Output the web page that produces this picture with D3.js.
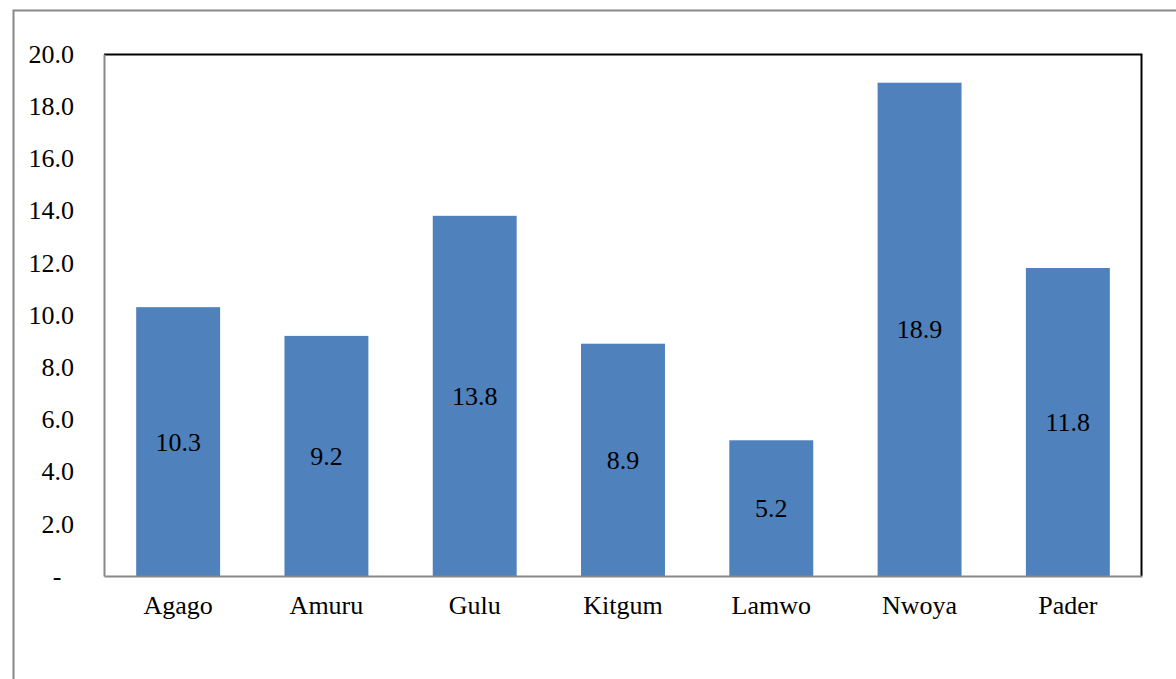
<!DOCTYPE html>
<html>
<head>
<meta charset="utf-8">
<script src="https://cdn.jsdelivr.net/npm/d3@7"></script>
<style>
  html, body { margin: 0; padding: 0; background: #fff; }
  svg { display: block; }
</style>
</head>
<body>
<svg id="chart" width="1176" height="679" font-family="Liberation Serif"></svg>
<script>
// District values
const districts = ["Agago", "Amuru", "Gulu", "Kitgum", "Lamwo", "Nwoya", "Pader"];
const values = [10.3, 9.2, 13.8, 8.9, 5.2, 18.9, 11.8];
const yTicks = [0, 2, 4, 6, 8, 10, 12, 14, 16, 18, 20];

const fontSize = 26;
const serif = "Liberation Serif";
const svg = d3.select("#chart");

// Outer chart frame
svg.append("rect")
  .attr("x", 13.5).attr("y", 10.5)
  .attr("width", 1180).attr("height", 700)
  .attr("fill", "none").attr("stroke", "#888").attr("stroke-width", 2);

const plot = { left: 104, top: 54, right: 1142, bottom: 576 };

const x = d3.scaleBand()
  .domain(districts)
  .range([plot.left, plot.right])
  .paddingInner(0.434)
  .paddingOuter(0.217);

const y = d3.scaleLinear().domain([0, 20]).range([plot.bottom, plot.top]);

// Plot area border (top/right)
svg.append("path")
  .attr("d", `M${plot.left},${plot.top + 0.5}H${plot.right - 0.5}V${plot.bottom}`)
  .attr("fill", "none").attr("stroke", "#000").attr("stroke-width", 2);

// Bars
svg.append("g").selectAll("rect")
  .data(values)
  .join("rect")
  .attr("x", (d, i) => x(districts[i]))
  .attr("y", d => y(d))
  .attr("width", x.bandwidth())
  .attr("height", d => y(0) - y(d))
  .attr("fill", "#4F81BD");

// Value labels centred in bars
svg.append("g").selectAll("text")
  .data(values)
  .join("text")
  .attr("x", (d, i) => x(districts[i]) + x.bandwidth() / 2)
  .attr("y", d => (y(d) + y(0)) / 2)
  .attr("text-anchor", "middle")
  .attr("dy", "0.35em")
  .attr("font-family", serif)
  .attr("font-size", fontSize)
  .attr("fill", "#000")
  .text(d => d.toFixed(1));

// Y axis
const yAxis = d3.axisLeft(y)
  .tickValues(yTicks)
  .tickSize(0)
  .tickPadding(30)
  .tickFormat(d => d === 0 ? "-" : d.toFixed(1));
const gy = svg.append("g")
  .attr("transform", `translate(${plot.left},0)`)
  .call(yAxis)
  .attr("font-family", serif)
  .attr("font-size", fontSize);
gy.select(".domain").attr("stroke", "#888").attr("stroke-width", 2);
gy.selectAll("text").attr("font-family", serif).attr("fill", "#000");
gy.selectAll(".tick").filter(d => d === 0).select("text")
  .attr("text-anchor", "middle")
  .attr("x", -47);

// X axis
const xAxis = d3.axisBottom(x).tickSize(0).tickPadding(20);
const gx = svg.append("g")
  .attr("transform", `translate(0,${plot.bottom})`)
  .call(xAxis)
  .attr("font-family", serif)
  .attr("font-size", fontSize);
gx.select(".domain").attr("stroke", "#888").attr("stroke-width", 2);
gx.selectAll("text").attr("font-family", serif).attr("fill", "#000");
</script>
</body>
</html>
